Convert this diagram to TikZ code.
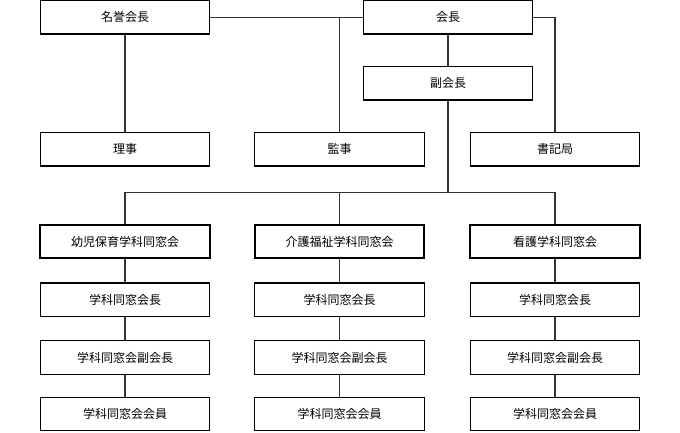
\documentclass[tikz,border=0pt]{standalone}
\usepackage{fontspec}
\setmainfont{Noto Sans CJK JP}
\begin{document}
\begin{tikzpicture}[x=0.75pt,y=-0.75pt,
  box/.style={draw=black,line width=0.9pt,minimum width=127pt,minimum height=25pt,inner sep=0pt,font=\fontsize{9}{11}\selectfont},
  headbox/.style={box,line width=1.6pt},
  conn/.style={draw=black!80,line width=0.8pt}]
\useasboundingbox (0,0) rectangle (680,432);
% top tier
\node[box] (hon) at (125,17.3) {名誉会長};
\node[box] (pres) at (448,17.3) {会長};
\node[box] (vp) at (448,83.3) {副会長};
\node[box] (dir) at (125,149.3) {理事};
\node[box] (aud) at (339.5,149.3) {監事};
\node[box] (sec) at (555,149.3) {書記局};
% columns
\foreach \n/\x/\t in {a/125/幼児保育学科同窓会, b/339.5/介護福祉学科同窓会, c/555/看護学科同窓会}{
  \node[headbox] (\n0) at (\x,241.5) {\t};
  \node[box] (\n1) at (\x,299.7) {学科同窓会長};
  \node[box] (\n2) at (\x,357.5) {学科同窓会副会長};
  \node[box] (\n3) at (\x,414) {学科同窓会会員};
  \draw[conn] (\n0.south) -- (\n1.north);
  \draw[conn] (\n1.south) -- (\n2.north);
  \draw[conn] (\n2.south) -- (\n3.north);
}
\coordinate (bus) at (448,192.5);
\draw[conn] (hon.east) -- (pres.west);
\draw[conn] (hon.south) -- (dir.north);
\draw[conn] (aud.north) -- (aud.north |- pres.west);
\draw[conn] (pres.east) -| (sec.north);
\draw[conn] (pres.south) -- (vp.north);
\draw[conn] (vp.south) -- (bus);
\draw[conn] (a0.north) |- (bus) -| (c0.north);
\draw[conn] (b0.north) -- (b0.north |- bus);
\end{tikzpicture}
\end{document}
